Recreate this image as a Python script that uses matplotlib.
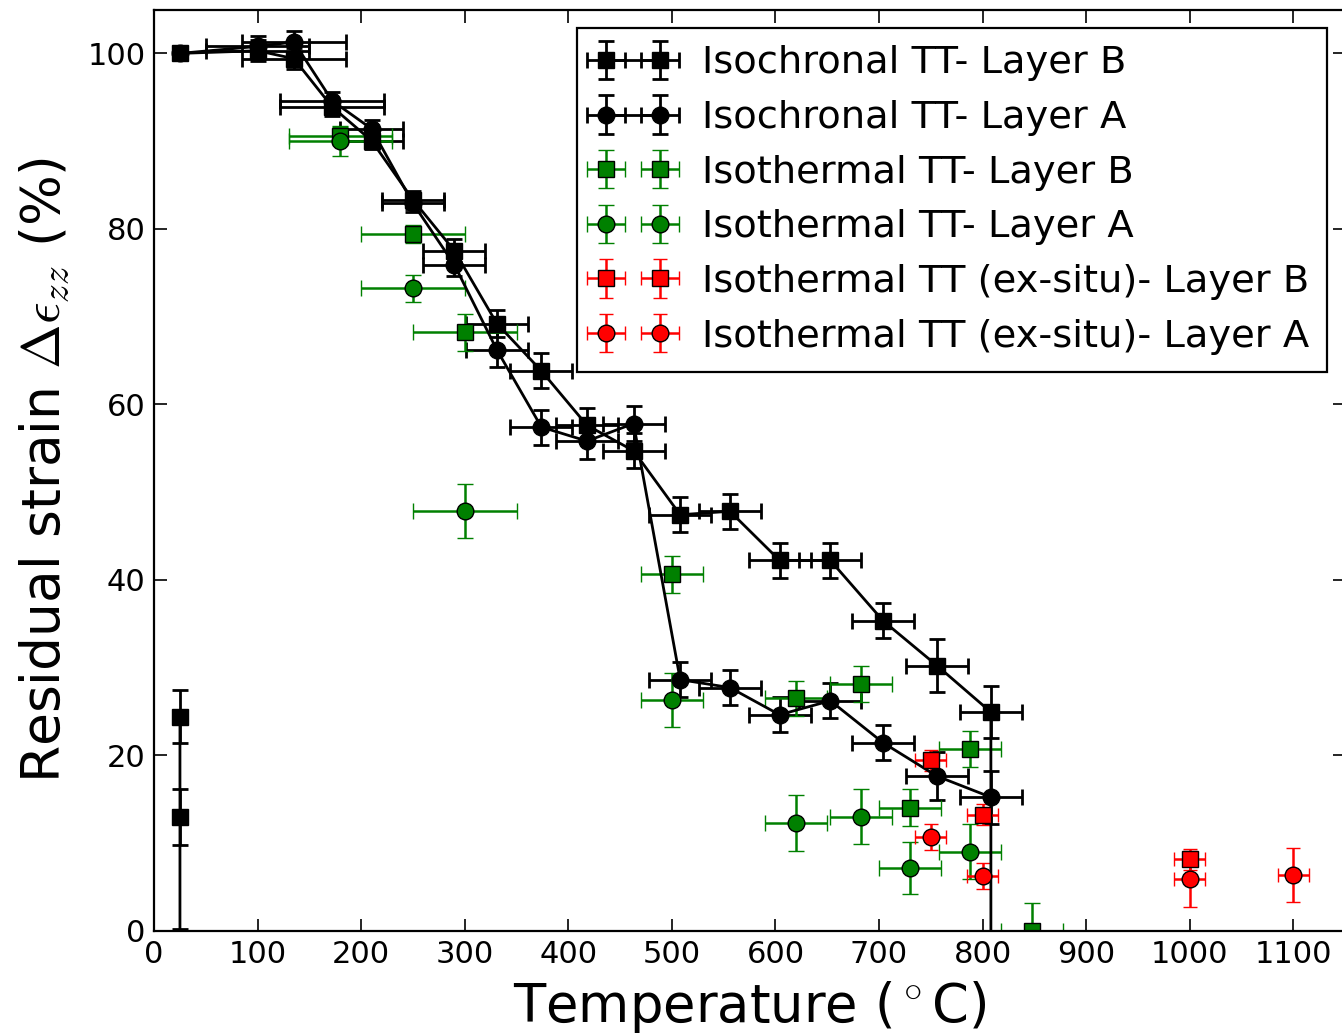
import numpy as np
import matplotlib
matplotlib.use('Agg')
import matplotlib.pyplot as plt

### Data ###
# isochronal, layer B (last four points: cooled-back values, partly below 0)
T_iso_B = [25, 100, 135, 172, 210, 250, 290, 331, 374, 418, 463, 508, 556, 604, 653, 704, 756, 808, 808, 25, 25, 25]
eps_iso_B = [100, 100.3, 99.4, 93.9, 90.05, 83.3, 77.5, 69.2, 63.8, 57.6, 54.7, 47.4, 47.8, 42.2, 42.2, 35.3, 30.2, 24.9, -6, -3, 12.9, 24.4]
xerr_iso_B = [0, 50, 50, 50, 30, 30, 30, 30, 30, 30, 30, 30, 30, 30, 30, 30, 30, 30, 0, 0, 0, 0]
yerr_iso_B = [0.5, 1.2, 1.2, 1, 1, 1, 1.3, 1.5, 2, 2, 2, 2, 2, 2, 2, 2, 3, 3, 3, 3.2, 3.2, 3]

# isochronal, layer A
T_iso_A = [25, 100, 135, 172, 210, 250, 290, 331, 374, 418, 463, 508, 556, 604, 653, 704, 756, 808]
eps_iso_A = [100, 100.8, 101.3, 94.6, 91.4, 82.9, 75.9, 66.2, 57.4, 55.8, 57.8, 28.6, 27.7, 24.6, 26.2, 21.4, 17.6, 15.2]
xerr_iso_A = [0, 50, 50, 50, 30, 30, 30, 30, 30, 30, 30, 30, 30, 30, 30, 30, 30, 30]
yerr_iso_A = [0.5, 1.2, 1.2, 1, 1, 1, 1.3, 2, 2, 2, 2, 2, 2, 2, 2, 2, 2.7, 3]

# isothermal, layer B / A
T_ith_B = [180, 250, 300, 500, 620, 683, 730, 788, 848]
eps_ith_B = [90.6, 79.4, 68.2, 40.6, 26.5, 28.1, 14.0, 20.7, 0]
xerr_ith_B = [50, 50, 50, 30, 30, 30, 30, 30, 30]
yerr_ith_B = [1, 1, 2.1, 2.1, 2, 2.1, 2.1, 2, 3.1]

T_ith_A = [180, 250, 300, 500, 620, 683, 730, 788]
eps_ith_A = [90.05, 73.2, 47.8, 26.3, 12.3, 13.0, 7.15, 9.0]
xerr_ith_A = [50, 50, 50, 30, 30, 30, 30, 30]
yerr_ith_A = [1.7, 1.5, 3.1, 3.1, 3.2, 3.1, 3, 3.1]

# isothermal ex-situ, layer B / A
T_ex_B = [750, 800, 1000]
eps_ex_B = [19.4, 13.2, 8.1]
xerr_ex_B = [15, 15, 15]
yerr_ex_B = [1.2, 1.2, 1.2]

T_ex_A = [750, 800, 1000, 1100]
eps_ex_A = [10.7, 6.2, 5.9, 6.3]
xerr_ex_A = [15, 15, 15, 15]
yerr_ex_A = [1.5, 1.5, 3.2, 3.1]

### Figure ###
plt.rcParams['font.family'] = 'DejaVu Sans'
plt.rcParams['mathtext.fontset'] = 'cm'

fig = plt.figure(figsize=(13.42, 10.36), dpi=100)
ax = fig.add_axes([0.1148, 0.1018, 0.8875, 0.889])

ax.errorbar(T_iso_B, eps_iso_B, xerr=xerr_iso_B, yerr=yerr_iso_B, fmt='s-', color='k',
            ms=12, mec='k', lw=2, elinewidth=2, capsize=6, capthick=2,
            label='Isochronal TT- Layer B')
ax.errorbar(T_iso_A, eps_iso_A, xerr=xerr_iso_A, yerr=yerr_iso_A, fmt='o-', color='k',
            ms=12, mec='k', lw=2, elinewidth=2, capsize=6, capthick=2,
            label='Isochronal TT- Layer A')
ax.errorbar(T_ith_B, eps_ith_B, xerr=xerr_ith_B, yerr=yerr_ith_B, fmt='s', color='green',
            ms=12, mec='k', mew=1, elinewidth=1.8, capsize=5.5, capthick=1.8,
            label='Isothermal TT- Layer B')
ax.errorbar(T_ith_A, eps_ith_A, xerr=xerr_ith_A, yerr=yerr_ith_A, fmt='o', color='green',
            ms=12, mec='k', mew=1, elinewidth=1.8, capsize=5.5, capthick=1.8,
            label='Isothermal TT- Layer A')
ax.errorbar(T_ex_B, eps_ex_B, xerr=xerr_ex_B, yerr=yerr_ex_B, fmt='s', color='red',
            ms=12, mec='k', mew=1, elinewidth=1.8, capsize=5, capthick=1.8,
            label='Isothermal TT (ex-situ)- Layer B')
ax.errorbar(T_ex_A, eps_ex_A, xerr=xerr_ex_A, yerr=yerr_ex_A, fmt='o', color='red',
            ms=12, mec='k', mew=1, elinewidth=1.8, capsize=5, capthick=1.8,
            label='Isothermal TT (ex-situ)- Layer A')

ax.set_xlim(0, 1150)
ax.set_ylim(0, 105)
ax.set_xticks(np.arange(0, 1101, 100))
ax.set_yticks(np.arange(0, 101, 20))
ax.tick_params(direction='in', top=True, right=True, length=9, width=1.2, labelsize=22)
ax.tick_params(axis='x', pad=7)
ax.tick_params(axis='y', pad=6)
for s in ax.spines.values():
    s.set_linewidth(1.6)

ax.set_xlabel(r'Temperature ($^\circ$C)', fontsize=38, labelpad=7)
ax.set_ylabel(r'Residual strain $\Delta\epsilon_{zz}$ (%)', fontsize=38.5, labelpad=12)

leg = ax.legend(loc='upper right', numpoints=2, fontsize=27.7, fancybox=False,
                framealpha=1, edgecolor='k', handlelength=2, handletextpad=0.8,
                borderpad=0.45, labelspacing=0.485, borderaxespad=0.48)
leg.get_frame().set_linewidth(1.6)

fig.savefig('out.png', dpi=100, facecolor='white')
